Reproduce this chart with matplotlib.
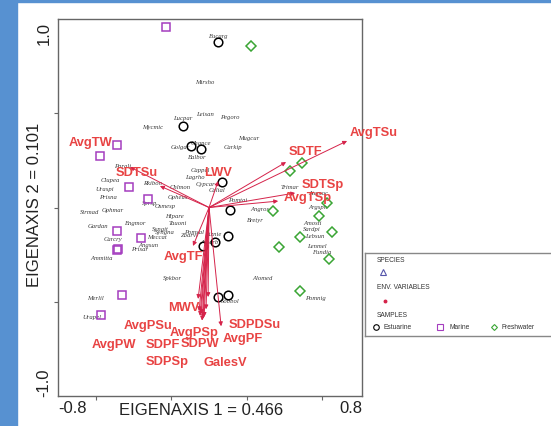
import numpy as np
import matplotlib
matplotlib.use("Agg")
import matplotlib.pyplot as plt
from matplotlib.patches import Rectangle

# environmental variable arrows (biplot scores)
env_names = ["AvgTSu", "SDTF", "SDTSp", "AvgTSp", "LWV", "AvgTW", "SDTSu", "AvgTF",
             "MWV", "AvgPSu", "AvgPW", "SDPF", "SDPSp", "AvgPSp", "SDPW", "GalesV",
             "SDPDSu", "AvgPF"]
env_x = [0.731, 0.408, 0.456, 0.366, 0.048, -0.419, -0.26, -0.085,
         -0.058, -0.048, -0.053, -0.042, -0.037, -0.032, -0.026, -0.005,
         0.064, -0.016]
env_y = [0.353, 0.241, 0.077, 0.034, 0.14, 0.215, 0.114, -0.204,
         -0.485, -0.575, -0.55, -0.565, -0.6, -0.59, -0.58, -0.475,
         -0.63, -0.54]
# label positions for the arrows
env_lx = [0.747, 0.509, 0.604, 0.525, 0.048, -0.63, -0.381, -0.138,
          -0.132, -0.323, -0.503, -0.244, -0.223, -0.079, -0.048, 0.085,
          0.244, 0.18]
env_ly = [0.40, 0.30, 0.125, 0.056, 0.188, 0.347, 0.188, -0.257,
          -0.528, -0.623, -0.724, -0.724, -0.814, -0.66, -0.719, -0.82,
          -0.618, -0.692]

# sample scores by group
est_x = [0.048, -0.138, -0.095, -0.042, 0.069, 0.111, 0.101, 0.032, -0.032, 0.048, 0.101]
est_y = [0.878, 0.432, 0.326, 0.310, 0.135, -0.013, -0.151, -0.183, -0.204, -0.475, -0.464]
mar_x = [-0.228, -0.487, -0.577, -0.424, -0.323, -0.487, -0.360, -0.487, -0.483, -0.461, -0.572]
mar_y = [0.958, 0.332, 0.273, 0.109, 0.045, -0.125, -0.162, -0.225, -0.222, -0.464, -0.570]
fre_x = [0.223, 0.493, 0.429, 0.339, 0.625, 0.583, 0.652, 0.482, 0.371, 0.636, 0.482]
fre_y = [0.857, 0.236, 0.194, -0.019, 0.024, -0.045, -0.13, -0.157, -0.21, -0.273, -0.443]

# sample / species labels
lab_names = ["Eucarg", "Mirsho", "Leisan", "Pegoro", "Lucpar", "Mycmic", "Mugcur", "Carkip",
             "Chance", "Golgar", "Balbor", "Parali", "Clupea", "Uraspi", "Rkibon", "Prisna",
             "Strmad", "Ophmar", "Sprsp", "Osmesp", "Opheus", "Chlmon", "Gardan", "Engmor",
             "Carcry", "Meccat", "Prisar", "Angsun", "Ammitta", "Hipare", "Tauoni", "Syngna",
             "Zoarvi", "Spkbor", "Merlil", "Urapel", "Sobbol", "Alomed", "Pomnig", "Bretyr",
             "Angros", "Pomtai", "Trimar", "Atemoc", "Argsph", "Amosti", "Sardpi", "Lebsun",
             "Lenmel", "Fundia", "Cappel", "Lagrho", "Calial", "Cypcar", "Atherb", "Liznie",
             "Syngit", "Pomsal"]
lab_x = [0.048, -0.021, -0.021, 0.111, -0.138, -0.297, 0.212, 0.127,
         -0.042, -0.154, -0.064, -0.456, -0.524, -0.551, -0.302, -0.535,
         -0.63, -0.509, -0.313, -0.233, -0.164, -0.154, -0.588, -0.392,
         -0.509, -0.276, -0.366, -0.323, -0.567, -0.185, -0.164, -0.233,
         -0.101, -0.196, -0.604, -0.62, 0.111, 0.281, 0.562, 0.244,
         0.27, 0.154, 0.429, 0.577, 0.577, 0.546, 0.546, 0.562,
         0.572, 0.599, -0.048, -0.074, 0.042, -0.021, 0.0, 0.02,
         -0.26, -0.08]
lab_y = [0.91, 0.666, 0.501, 0.485, 0.475, 0.432, 0.369, 0.326,
         0.347, 0.321, 0.273, 0.225, 0.151, 0.103, 0.135, 0.056,
         -0.019, -0.013, 0.029, 0.008, 0.056, 0.109, -0.093, -0.077,
         -0.167, -0.156, -0.220, -0.194, -0.263, -0.045, -0.077, -0.125,
         -0.141, -0.374, -0.475, -0.576, -0.496, -0.369, -0.475, -0.066,
         -0.003, 0.045, 0.114, 0.082, 0.003, -0.077, -0.114, -0.146,
         -0.199, -0.236, 0.204, 0.167, 0.098, 0.125, -0.18, -0.14,
         -0.11, -0.125]

red_txt = "#e84343"
red_arr = "#d5234a"
purple = "#a43dbf"
green = "#3aa534"

fig = plt.figure(figsize=(5.51, 4.27), dpi=100)
fig.patches.append(Rectangle((0, 0), 17/551, 1, transform=fig.transFigure, color="#5791d1", zorder=-5))
fig.patches.append(Rectangle((0, 1-3/427), 1, 3/427, transform=fig.transFigure, color="#5791d1", zorder=-5))

ax = fig.add_axes([58/551, 30/427, 304/551, 377/427])
ax.set_xlim(-0.8, 0.81)
ax.set_ylim(-1.0, 1.0)
for s in ax.spines.values():
    s.set_color("#666666")
    s.set_linewidth(1.0)
ax.set_xticks([-0.6, -0.2, 0.2, 0.6])
ax.set_yticks([-0.5, 0, 0.5])
ax.tick_params(direction="out", length=3, color="#666666", labelleft=False, labelbottom=False)

# labels of the samples
for n, x, y in zip(lab_names, lab_x, lab_y):
    ax.text(x, y, n, fontsize=4.8, family="Liberation Serif", style="italic",
            color="#3a3a3a", ha="center", va="center", zorder=2)

ax.plot(est_x, est_y, "o", ms=6.2, mfc="none", mec="black", mew=1.1, zorder=3)
ax.plot(mar_x, mar_y, "s", ms=6.3, mfc="none", mec=purple, mew=1.1, zorder=3)
ax.plot(fre_x, fre_y, "D", ms=4.6, mfc="none", mec=green, mew=1.1, zorder=3)

for x, y in zip(env_x, env_y):
    ax.annotate("", xy=(x, y), xytext=(0, 0),
                arrowprops=dict(arrowstyle="-|>", color=red_arr, lw=0.7,
                                mutation_scale=6, shrinkA=0, shrinkB=0), zorder=4)
for n, x, y in zip(env_names, env_lx, env_ly):
    ax.text(x, y, n, fontsize=9.3, family="Liberation Sans", weight="bold",
            color=red_txt, ha="left" if n == "AvgTSu" else "center",
            va="center", zorder=5, clip_on=False)

# tick labels only at the ends
ax.text(-0.8, -1.06, "-0.8", fontsize=12, family="Liberation Sans", color="#222222",
        ha="left", va="center", clip_on=False)
ax.text(0.81, -1.06, "0.8", fontsize=12, family="Liberation Sans", color="#222222",
        ha="right", va="center", clip_on=False)
ax.text(-0.875, 0.99, "1.0", fontsize=12, family="Liberation Sans", color="#222222",
        rotation=90, ha="center", va="top", clip_on=False)
ax.text(-0.875, -1.0, "-1.0", fontsize=12, family="Liberation Sans", color="#222222",
        rotation=90, ha="center", va="bottom", clip_on=False)
fig.text(201/551, 1-411/427, "EIGENAXIS 1 = 0.466", fontsize=12, family="Liberation Sans",
         color="#222222", ha="center", va="center")
ax.set_ylabel("EIGENAXIS 2 = 0.101", fontsize=12, family="Liberation Sans", color="#222222")
ax.yaxis.set_label_coords(-0.053, 0.51)

# legend box
lg = fig.add_axes([365/551, 90/427, 200/551, 83/427])
lg.set_xlim(0, 200)
lg.set_ylim(83, 0)
lg.set_xticks([])
lg.set_yticks([])
for s in lg.spines.values():
    s.set_color("#888888")
    s.set_linewidth(1.0)
kw = dict(fontsize=4.8, family="Liberation Sans", color="#333333", va="center")
lg.text(12, 7, "SPECIES", **kw)
lg.plot([18], [19], "^", ms=4, mfc="none", mec="#5555aa", mew=0.8)
lg.text(12, 34, "ENV. VARIABLES", **kw)
lg.plot([20], [48], "o", ms=1.8, color=red_arr)
lg.text(12, 62, "SAMPLES", **kw)
lg.plot([11], [74], "o", ms=4, mfc="none", mec="black", mew=0.8)
lg.text(19, 74, "Estuarine", **kw)
lg.plot([75], [74], "s", ms=4, mfc="none", mec=purple, mew=0.8)
lg.text(85, 74, "Marine", **kw)
lg.plot([129], [74], "D", ms=3, mfc="none", mec=green, mew=0.8)
lg.text(137, 74, "Freshwater", **kw)

fig.savefig("out.png", dpi=100)
